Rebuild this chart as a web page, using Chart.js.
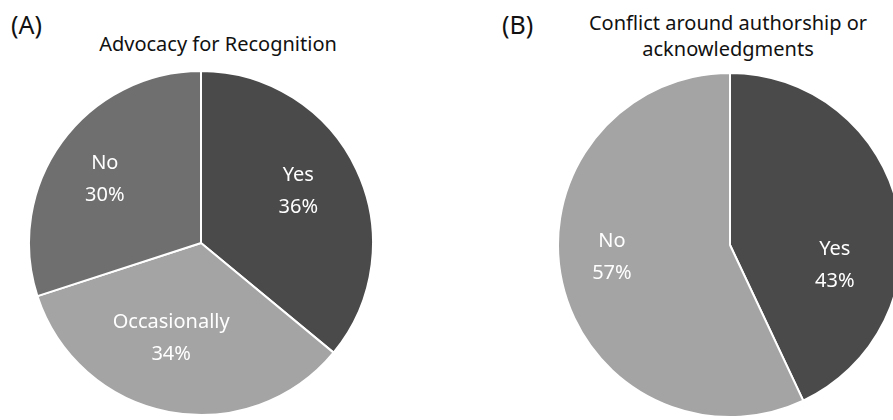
<!DOCTYPE html>
<html><head><meta charset="utf-8">
<script src="https://cdn.jsdelivr.net/npm/chart.js@4"></script>
<style>
html,body{margin:0;padding:0;background:#fff;width:893px;height:420px;overflow:hidden;position:relative;font-family:"Noto Sans",sans-serif;}
.box{position:absolute;}
.tag{position:absolute;font-size:25px;color:#111;}
.ttl{position:absolute;font-size:20px;color:#111;text-align:center;line-height:26px;}
</style></head><body>
<div class="tag" style="left:11px;top:7px;">(A)</div>
<div class="tag" style="left:502px;top:7px;">(B)</div>
<div class="ttl" style="left:68px;width:300px;top:31px;">Advocacy for Recognition</div>
<div class="ttl" style="left:578px;width:300px;top:10px;">Conflict around authorship or<br>acknowledgments</div>
<div class="box" style="left:28px;top:70px;width:346px;height:346px;"><canvas id="c1"></canvas></div>
<div class="box" style="left:557px;top:72px;width:346px;height:346px;"><canvas id="c2"></canvas></div>
<script>
const catsA = ["Yes", "Occasionally", "No"];
const valsA = [36, 34, 30];
const colorsA = ["#4a4a4a", "#a4a4a4", "#6f6f6f"];
const catsB = ["Yes", "No"];
const valsB = [43, 57];
const colorsB = ["#4a4a4a", "#a4a4a4"];

const sliceLabels = {
  id: 'sliceLabels',
  afterDatasetsDraw(chart, args, opts) {
    const ctx = chart.ctx;
    const meta = chart.getDatasetMeta(0);
    const data = chart.data.datasets[0].data;
    ctx.save();
    ctx.fillStyle = '#ffffff';
    ctx.font = '20px "Noto Sans", sans-serif';
    ctx.textAlign = 'center';
    ctx.textBaseline = 'middle';
    meta.data.forEach((arc, i) => {
      const p = opts.place[i];
      const mid = (arc.startAngle + arc.endAngle) / 2 + p[1] * Math.PI / 180;
      const r = arc.outerRadius * p[0];
      const x = arc.x + Math.cos(mid) * r;
      const y = arc.y + Math.sin(mid) * r;
      ctx.fillText(chart.data.labels[i], x, y - 16);
      ctx.fillText(data[i] + '%', x, y + 16);
    });
    ctx.restore();
  }
};

function makePie(id, labels, values, colors, place) {
  new Chart(document.getElementById(id), {
    type: 'pie',
    data: { labels: labels, datasets: [{ data: values, backgroundColor: colors, borderColor: '#ffffff', borderWidth: 2 }] },
    options: {
      responsive: true, maintainAspectRatio: false, animation: false,
      layout: { padding: 0 },
      plugins: { legend: { display: false }, tooltip: { enabled: false }, sliceLabels: { place: place } }
    },
    plugins: [sliceLabels]
  });
}
makePie('c1', catsA, valsA, colorsA, [[0.64, -2.7], [0.58, 6.6], [0.67, -2.6]]);
makePie('c2', catsB, valsB, colorsB, [[0.62, 23.4], [0.69, 6.8]]);
</script>
</body></html>
